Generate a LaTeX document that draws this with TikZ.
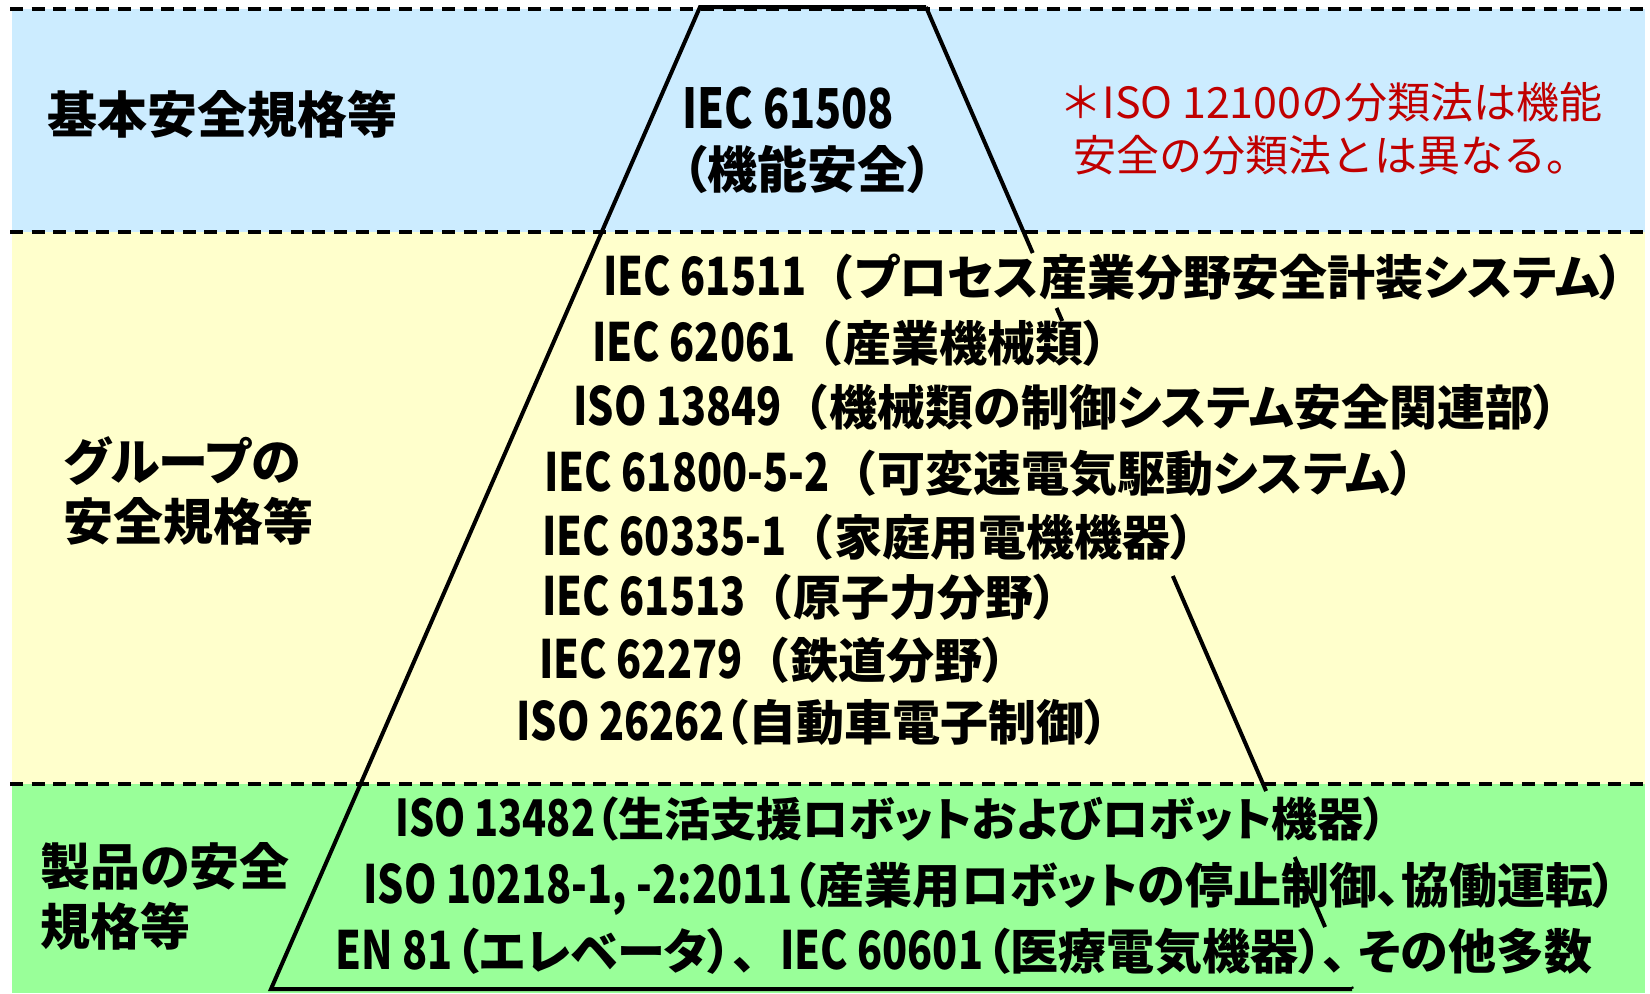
\documentclass[tikz,border=0pt]{standalone}
\usepackage{fontspec}
\usepackage{graphicx}
\usetikzlibrary{calc}
\newfontfamily\jp[RawFeature=+palt]{Noto Sans CJK JP}
\newfontfamily\jpf{Noto Sans CJK JP}
\newcommand{\latn}[1]{\scalebox{0.86}[1.1]{#1}}
\newcommand{\fwlp}{{\jpf （}}
\newcommand{\fwcomma}{{\jpf 、}}
\definecolor{bandblue}{HTML}{CCECFF}
\definecolor{bandyellow}{HTML}{FFFFCC}
\definecolor{bandgreen}{HTML}{99FF99}
\definecolor{notered}{HTML}{C00000}
\tikzset{
  sepline/.style={line width=1.6pt, dash pattern=on 6.5pt off 4.3pt},
  edgeline/.style={line width=2pt, line join=miter},
  biglabel/.style={font=\jp\bfseries\fontsize{25pt}{30pt}\selectfont, anchor=west, inner sep=0pt, align=left},
  stdrow/.style={font=\jp\bfseries\fontsize{24pt}{28pt}\selectfont, anchor=west, inner sep=0pt},
  notetext/.style={font=\jpf\fontsize{21.5pt}{26.5pt}\selectfont, text=notered, align=center, inner sep=0pt}
}
\begin{document}
\begin{tikzpicture}[x=0.5pt,y=-0.5pt]
\useasboundingbox (0,0) rectangle (1650,993);
% bands
\fill[bandblue]   (12,9)   rectangle (1645,232);
\fill[bandyellow] (12,232) rectangle (1645,784);
\fill[bandgreen]  (12,784) rectangle (1645,993);
\draw[sepline] (10,9) -- (1650,9);
\draw[sepline] (10,232) -- (1650,232);
\draw[sepline] (10,784) -- (1650,784);
% trapezoid
\coordinate (TL) at (700,7);
\coordinate (TR) at (926,7);
\coordinate (BL) at (271,989);
\coordinate (BR) at (1352,989);
\draw[edgeline] (TR) -- (TL) -- (BL) -- (BR);
\draw[edgeline] (TR) -- ($(TR)!0.2505!(BR)$);
\draw[edgeline] ($(TR)!0.3065!(BR)$) -- ($(TR)!0.3198!(BR)$);
\draw[edgeline] ($(TR)!0.5794!(BR)$) -- ($(TR)!0.7984!(BR)$);
\draw[edgeline] ($(TR)!0.8656!(BR)$) -- ($(TR)!0.9369!(BR)$);
\draw[edgeline] ($(TR)!0.9980!(BR)$) -- (BR);
% band labels
\node[biglabel] (basic) at (47,114) {基本安全規格等};
\node[biglabel] (group) at (63,490.5) {グループの\\安全規格等};
\node[biglabel] (product) at (40,896) {製品の安全\\規格等};
% top block
\node[biglabel] (iec61508) at (682,140.5) {\latn{IEC 61508}\\（機能安全）};
\node[notetext] (note) at (1331,128.5) {＊ISO 12100の分類法は機能\\安全の分類法とは異なる。};
% group standards
\node[stdrow] (r1) at (603,277) {\latn{IEC 61511}\fwlp プロセス産業分野安全計装システム）};
\node[stdrow] (r2) at (592,343) {\latn{IEC 62061}\fwlp 産業機械類）};
\node[stdrow] (r3) at (573,407) {\latn{ISO 13849}\fwlp 機械類の制御システム安全関連部）};
\node[stdrow] (r4) at (544,474) {\latn{IEC 61800-5-2}\fwlp 可変速電気駆動システム）};
\node[stdrow] (r5) at (542,537) {\latn{IEC 60335-1}\fwlp 家庭用電機機器）};
\node[stdrow] (r6) at (542,597) {\latn{IEC 61513}\fwlp 原子力分野）};
\node[stdrow] (r7) at (539,660) {\latn{IEC 62279}\fwlp 鉄道分野）};
\node[stdrow] (r8) at (516,722) {\latn{ISO 26262}（自動車電子制御）};
% product standards
\node[stdrow, font=\jp\bfseries\fontsize{23pt}{28pt}\selectfont] (g1) at (395,819) {\latn{ISO 13482}（生活支援ロボットおよびロボット機器）};
\node[stdrow] (g2) at (363,889) {\latn{ISO 10218-1, -2:2011}（産業用ロボットの停止制御、協働運転）};
\node[stdrow] (g3) at (335,952) {\latn{EN 81}\kern1.5pt（エレベータ）\fwcomma\latn{IEC 60601}\kern1.5pt（医療電気機器）、\kern6pt その他多数};
\end{tikzpicture}
\end{document}
